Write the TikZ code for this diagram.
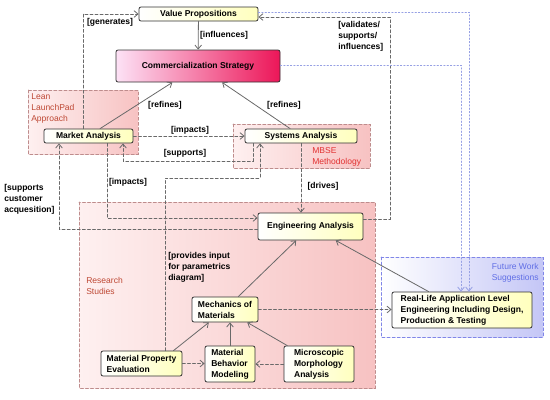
\documentclass[tikz,border=0pt]{standalone}
\usepackage{fontspec}
\setmainfont{Liberation Sans}
\usepackage{tikz}
\usetikzlibrary{arrows.meta, calc, positioning}
\definecolor{boxBorder}{RGB}{50,50,50}
\definecolor{boxYellow}{RGB}{255,255,190}
\definecolor{stratPink}{RGB}{253,226,246}
\definecolor{stratRed}{RGB}{236,22,88}
\definecolor{linkGray}{RGB}{105,105,105}
\definecolor{linkBlue}{RGB}{150,160,228}
\definecolor{groupPink}{RGB}{247,194,194}
\definecolor{groupLight}{RGB}{254,240,240}
\definecolor{groupEdge}{RGB}{190,140,140}
\definecolor{futureEdge}{RGB}{128,134,232}
\definecolor{futureFill}{RGB}{196,198,246}
\definecolor{labelBrown}{RGB}{190,72,52}
\definecolor{labelRed}{RGB}{226,50,50}
\definecolor{labelBlue}{RGB}{96,110,230}
\def\px{0.75pt}
\tikzset{
  block/.style={draw=boxBorder, line width=0.6pt, rounded corners=1.5pt,
    left color=white, right color=boxYellow, text=black,
    font=\bfseries\fontsize{6.4}{8.25}\selectfont, align=left, inner sep=0pt},
  stratBlock/.style={block, left color=stratPink, right color=stratRed},
  linkLabel/.style={font=\bfseries\fontsize{6.4}{8.25}\selectfont, align=left, inner sep=0pt},
  groupLabel/.style={font=\fontsize{6.4}{8.25}\selectfont, align=left, inner sep=0pt},
  groupBox/.style={draw=groupEdge, line width=0.6pt, dash pattern=on 2.2pt off 1.6pt,
    left color=groupLight, right color=groupPink},
  futureBox/.style={groupBox, draw=futureEdge, left color=white, right color=futureFill},
  solidLink/.style={draw=linkGray, line width=0.6pt, -{Straight Barb[length=3pt, width=5pt]}},
  dashLink/.style={solidLink, dash pattern=on 2.2pt off 1.6pt},
  dotLink/.style={solidLink, draw=linkBlue, dash pattern=on 1pt off 1.5pt}
}

\begin{document}
\begin{tikzpicture}[x=\px, y=-\px, line cap=round]
  \useasboundingbox (0,0) rectangle (550,400);

  \filldraw[groupBox] (79,202) rectangle (375,388);
  \filldraw[groupBox] (28,90) rectangle (138,154);
  \filldraw[groupBox] (233,124) rectangle (370,168);
  \filldraw[futureBox] (381,257) rectangle (543,337);

  \node[groupLabel, text=labelBrown, anchor=west] (leanTitle) at (31,108) {Lean\\LaunchPad\\Approach};
  \node[groupLabel, text=labelRed, anchor=west] (mbseTitle) at (312,157) {MBSE\\Methodology};
  \node[groupLabel, text=labelBrown, anchor=west] (researchTitle) at (86,286) {Research\\Studies};
  \node[groupLabel, text=labelBlue, anchor=east, align=right] (futureTitle) at (539,273) {Future Work\\Suggestions};

  \node[block, minimum width=119*\px, minimum height=14*\px] (vp) at (198.5,14) {Value Propositions};
  \node[stratBlock, minimum width=164*\px, minimum height=32*\px] (cs) at (198,66) {Commercialization Strategy};
  \node[block, minimum width=89*\px, minimum height=14*\px] (ma) at (88.5,136) {Market Analysis};
  \node[block, minimum width=112*\px, minimum height=14*\px] (sa) at (301,136) {Systems Analysis};
  \node[block, minimum width=105*\px, minimum height=27*\px] (ea) at (310.5,226.5) {Engineering Analysis};
  \node[block, minimum width=66*\px, minimum height=25*\px] (mom) at (225,309.5) {Mechanics of\\Materials};
  \node[block, minimum width=81*\px, minimum height=25*\px] (mpe) at (141.5,363.5) {Material Property\\Evaluation};
  \node[block, minimum width=50*\px, minimum height=36*\px] (mbm) at (230,364) {Material\\Behavior\\Modeling};
  \node[block, minimum width=70*\px, minimum height=36*\px] (mma) at (319,364) {Microscopic\\Morphology\\Analysis};
  \node[block, minimum width=140*\px, minimum height=36*\px] (rl) at (462,310) {Real-Life Application Level\\Engineering Including Design,\\Production \& Testing};

  \coordinate (genBend) at (83,14);
  \coordinate (valTop) at (390,17);
  \coordinate (valLow) at (390,219);
  \coordinate (vpBlue) at (469,12);
  \coordinate (csBlue) at (461,65);
  \coordinate (supLeft) at (123,161);
  \coordinate (supRight) at (253,161);
  \coordinate (impBend) at (107,218);
  \coordinate (custBend) at (59,229);
  \coordinate (provLeft) at (165,178);
  \coordinate (provRight) at (260,178);

  \draw[solidLink] (vp) -- (cs);
  \draw[solidLink] (ma) -- (cs);
  \draw[solidLink] (sa) -- (cs);
  \draw[solidLink] (mom) -- (ea);
  \draw[solidLink] (rl) -- (ea);
  \draw[solidLink] ($(mpe.north)+(32,0)$) -- (mom);
  \draw[solidLink] (mbm.north) -- (mbm.north |- mom.south);
  \draw[solidLink] (mma) -- (mom);

  \draw[dashLink] (genBend |- ma.north) -- (genBend) -- (vp.west);
  \draw[dashLink] (valLow -| ea.east) -- (valLow) -- (valTop) -- (valTop -| vp.east);
  \draw[dashLink] (ma.east) -- (sa.west);
  \draw[dashLink] (supRight |- sa.south) -- (supRight) -- (supLeft) -- (supLeft |- ma.south);
  \draw[dashLink] (impBend |- ma.south) -- (impBend) -- (impBend -| ea.west);
  \draw[dashLink] (custBend -| ea.west) -- (custBend) -- (custBend |- ma.south);
  \draw[dashLink] (sa.south) -- (sa.south |- ea.north);
  \draw[dashLink] (provLeft |- mpe.north) -- (provLeft) -- (provRight) -- (provRight |- sa.south);
  \draw[dashLink] (mom.east) -- (mom.east -| rl.west);
  \draw[dashLink] (mpe.east) -- (mpe.east -| mbm.west);
  \draw[dashLink] (mma.west) -- (mma.west -| mbm.east);

  \draw[dotLink] (vpBlue -| vp.east) -- (vpBlue) -- (vpBlue |- rl.north);
  \draw[dotLink] (csBlue -| cs.east) -- (csBlue) -- (csBlue |- rl.north);

  \node[linkLabel] (lblGenerates) at (110,22) {[generates]};
  \node[linkLabel] (lblInfluences) at (224,35) {[influences]};
  \node[linkLabel] (lblRefinesMa) at (165,105) {[refines]};
  \node[linkLabel] (lblRefinesSa) at (284,105) {[refines]};
  \node[linkLabel] (lblImpactsSa) at (190,130) {[impacts]};
  \node[linkLabel] (lblSupports) at (185,153) {[supports]};
  \node[linkLabel] (lblImpactsEa) at (128,182) {[impacts]};
  \node[linkLabel] (lblDrives) at (323,186) {[drives]};
  \node[linkLabel, anchor=west] (lblCustomer) at (4,199) {[supports\\customer\\acquesition]};
  \node[linkLabel, anchor=west] (lblProvides) at (168,267) {[provides input\\for parametrics\\diagram]};
  \node[linkLabel, anchor=west] (lblValidates) at (338,36) {[validates/\\supports/\\influences]};
\end{tikzpicture}
\end{document}
